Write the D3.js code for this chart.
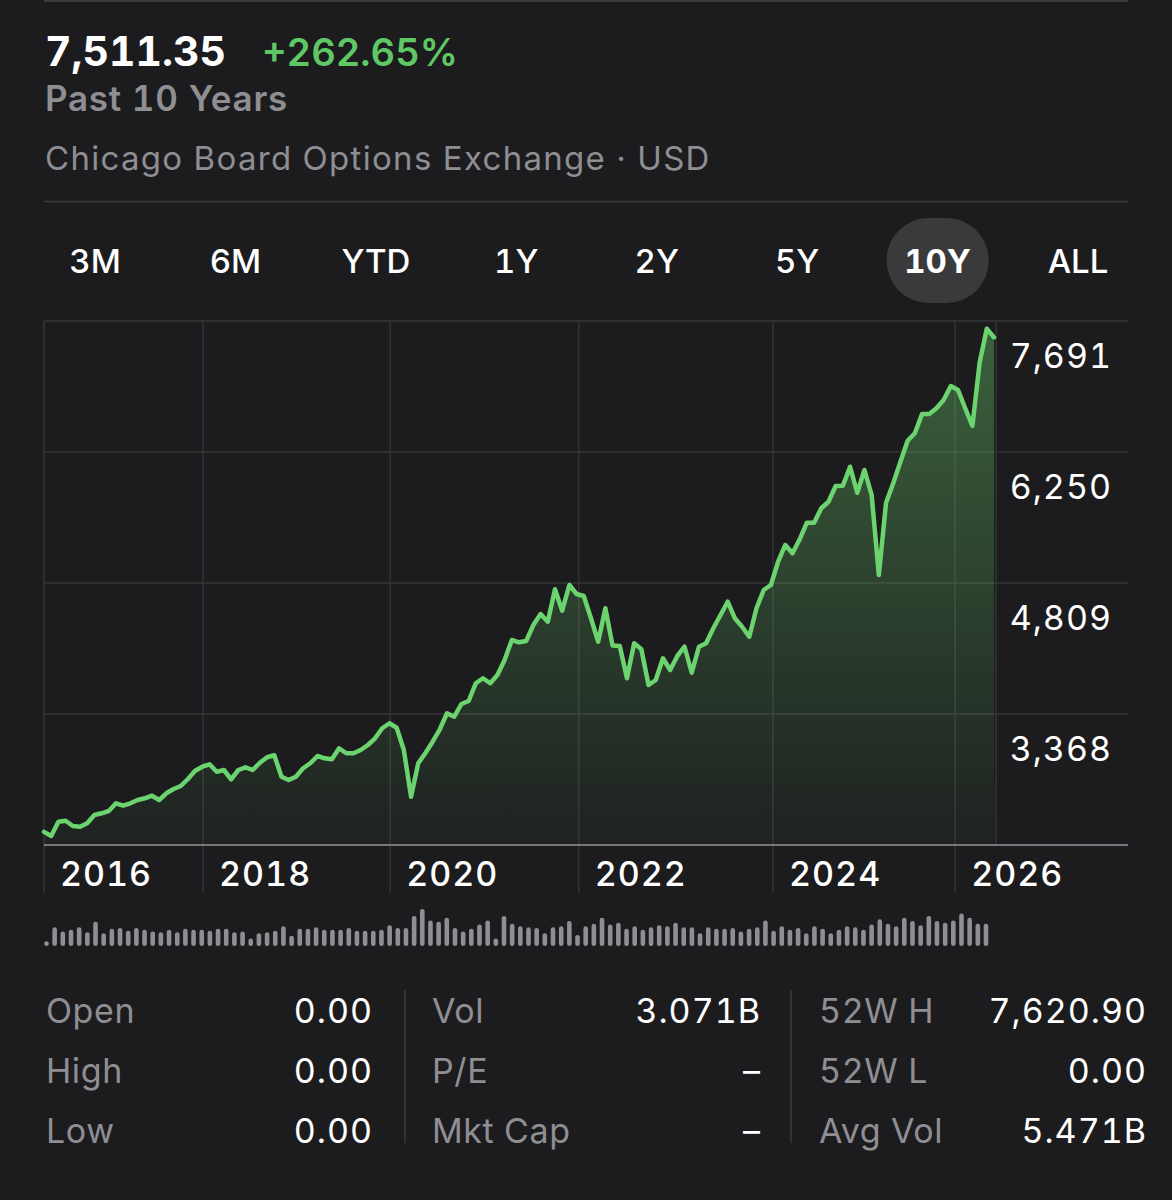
<!DOCTYPE html>
<html>
<head>
<meta charset="utf-8">
<script src="https://cdn.jsdelivr.net/npm/d3@7"></script>
<style>
  body { margin: 0; background: #1c1c1e; }
  svg  { display: block; font-family: Inter, "Noto Sans", sans-serif; font-variant-numeric: tabular-nums; }
</style>
</head>
<body>
<div id="chart"></div>
<script>
// --- Data ---
const lastPrice  = '7,511.35';
const changePct  = '+262.65%';
const periodText = 'Past 10 Years';
const exchange   = 'Chicago Board Options Exchange · USD';

const ranges      = ['3M', '6M', 'YTD', '1Y', '2Y', '5Y', '10Y', 'ALL'];
const activeRange = '10Y';

// closing level, one point per 4 weeks
const closes = [
  2071, 2026, 2183, 2194, 2136, 2128, 2166, 2257, 2276, 2301,
  2386, 2359, 2386, 2422, 2441, 2469, 2422, 2496, 2543, 2576,
  2653, 2744, 2788, 2815, 2733, 2752, 2650, 2752, 2782, 2752,
  2832, 2892, 2914, 2678, 2642, 2678, 2771, 2826, 2906, 2881,
  2870, 2991, 2936, 2936, 2972, 3027, 3101, 3211, 3266, 3217,
  2972, 2458, 2826, 2939, 3063, 3200, 3376, 3338, 3478, 3511,
  3706, 3761, 3706, 3797, 3962, 4182, 4157, 4171, 4347, 4468,
  4383, 4740, 4504, 4787, 4688, 4666, 4421, 4163, 4531, 4122,
  4116, 3761, 4146, 4080, 3687, 3742, 3981, 3852, 4006, 4108,
  3822, 4108, 4146, 4311, 4457, 4603, 4421, 4328, 4218, 4531,
  4732, 4787, 5043, 5227, 5136, 5290, 5472, 5472, 5631, 5703,
  5876, 5879, 6088, 5802, 6052, 5777, 4897, 5692, 5906, 6143,
  6374, 6456, 6668, 6668, 6731, 6822, 6976, 6932, 6731, 6536,
  7232, 7605, 7511.35
];

// volume bars (billions)
const volumes = [
  1.4, 5.4, 4.2, 4.7, 5.4, 4.0, 7.0, 3.7, 5.0, 5.2,
  4.4, 5.2, 4.7, 4.2, 4.0, 4.7, 4.0, 5.0, 4.7, 4.7,
  4.4, 5.0, 5.0, 4.0, 4.2, 2.2, 3.7, 4.0, 4.4, 5.7,
  3.0, 5.0, 5.0, 5.4, 4.7, 4.7, 4.7, 5.2, 4.4, 4.4,
  4.4, 4.7, 6.0, 5.2, 5.2, 8.7, 10.7, 7.4, 7.0, 8.2,
  5.2, 4.2, 5.0, 6.2, 7.4, 2.2, 8.7, 6.4, 5.7, 5.4,
  5.2, 3.7, 5.4, 5.7, 7.2, 3.2, 5.7, 6.4, 8.2, 6.2,
  6.7, 5.0, 5.7, 4.7, 5.4, 6.0, 5.7, 6.7, 5.4, 5.4,
  3.7, 5.4, 5.0, 5.0, 5.2, 4.2, 5.0, 5.4, 7.4, 4.4,
  5.7, 4.7, 5.2, 3.7, 5.7, 5.0, 3.7, 4.7, 5.7, 5.4,
  4.7, 6.2, 7.7, 6.4, 5.7, 8.2, 7.2, 6.0, 8.7, 7.2,
  6.7, 7.4, 9.4, 8.2, 6.4, 6.4
];

const priceTicks = [1927, 3368, 4809, 6250, 7691];
const yearLabels = ['2016', '2018', '2020', '2022', '2024', '2026'];
const yearPos    = [0, 22.1, 48.1, 74.3, 101.3, 126.6];   // in point-index units

const statLabels = [['Open', 'High', 'Low'], ['Vol', 'P/E', 'Mkt Cap'], ['52W H', '52W L', 'Avg Vol']];
const statValues = [['0.00', '0.00', '0.00'], ['3.071B', '–', '–'], ['7,620.90', '0.00', '5.471B']];

// --- Layout ---
const W = 1172, H = 1200;
const plot = { left: 44, right: 1128, top: 321, bottom: 845, dataRight: 994 };
const GRID = '#343437', GRAY = '#8e8e93', GREEN = '#6cd46f';

const svg = d3.select('#chart').append('svg')
  .attr('width', W).attr('height', H);

svg.append('rect').attr('width', W).attr('height', H).attr('fill', '#1c1c1e');

// --- Header ---
svg.append('line')
  .attr('x1', 44).attr('x2', plot.right).attr('y1', 1).attr('y2', 1)
  .attr('stroke', '#3a3a3c').attr('stroke-width', 2);

svg.append('text').attr('x', 45).attr('y', 66)
  .attr('fill', '#fff').attr('font-size', 41).attr('font-weight', 700)
  .text(lastPrice);
svg.append('text').attr('x', 262).attr('y', 66)
  .attr('fill', '#5fc864').attr('font-size', 38).attr('font-weight', 600)
  .text(changePct);
svg.append('text').attr('x', 45).attr('y', 111)
  .attr('fill', GRAY).attr('font-size', 35).attr('font-weight', 600)
  .attr('letter-spacing', 0.7)
  .text(periodText);
svg.append('text').attr('x', 45).attr('y', 170)
  .attr('fill', GRAY).attr('font-size', 33)
  .attr('letter-spacing', 1.3)
  .text(exchange);

svg.append('line')
  .attr('x1', 44).attr('x2', plot.right).attr('y1', 201.5).attr('y2', 201.5)
  .attr('stroke', '#3a3a3c').attr('stroke-width', 1.5);

// --- Range tabs ---
const tabX = d3.scalePoint().domain(ranges).range([95, 1078]);

svg.append('rect')
  .attr('x', tabX(activeRange) - 51).attr('y', 218)
  .attr('width', 102).attr('height', 85).attr('rx', 42)
  .attr('fill', '#3a3a3c');

svg.selectAll('.tab')
  .data(ranges)
  .join('text')
    .attr('class', 'tab')
    .attr('x', d => tabX(d))
    .attr('y', 273)
    .attr('text-anchor', 'middle')
    .attr('fill', '#fff')
    .attr('font-size', 33)
    .attr('font-weight', d => d === activeRange ? 700 : 500)
    .text(d => d);

// --- Price chart ---
const xScale = d3.scaleLinear().domain([0, closes.length - 1]).range([plot.left, plot.dataRight]);
const yScale = d3.scaleLinear().domain([priceTicks[0], priceTicks[priceTicks.length - 1]])
  .range([plot.bottom, plot.top]);

const chart = svg.append('g');

// horizontal gridlines
chart.selectAll('.hgrid')
  .data(priceTicks.slice(1))
  .join('line')
    .attr('class', 'hgrid')
    .attr('x1', plot.left).attr('x2', plot.right)
    .attr('y1', d => yScale(d)).attr('y2', d => yScale(d))
    .attr('stroke', GRID).attr('stroke-width', 1.5);

// vertical year gridlines (run down through the label row)
chart.selectAll('.vgrid')
  .data(yearPos)
  .join('line')
    .attr('class', 'vgrid')
    .attr('x1', d => xScale(d)).attr('x2', d => xScale(d))
    .attr('y1', plot.top).attr('y2', 893)
    .attr('stroke', GRID).attr('stroke-width', 1.5);

// end-of-data marker
chart.append('line')
  .attr('x1', xScale(closes.length - 1) + 2).attr('x2', xScale(closes.length - 1) + 2)
  .attr('y1', plot.top).attr('y2', plot.bottom)
  .attr('stroke', GRID).attr('stroke-width', 1.5);

// area gradient
const defs = svg.append('defs');
const grad = defs.append('linearGradient')
  .attr('id', 'areaFill')
  .attr('gradientUnits', 'userSpaceOnUse')
  .attr('x1', 0).attr('x2', 0).attr('y1', plot.top).attr('y2', plot.bottom);
grad.append('stop').attr('offset', 0).attr('stop-color', GREEN).attr('stop-opacity', 0.38);
grad.append('stop').attr('offset', 1).attr('stop-color', GREEN).attr('stop-opacity', 0.03);

const area = d3.area()
  .x((d, i) => xScale(i))
  .y0(plot.bottom)
  .y1(d => yScale(d));

const line = d3.line()
  .x((d, i) => xScale(i))
  .y(d => yScale(d));

chart.append('path')
  .datum(closes)
  .attr('d', area)
  .attr('fill', 'url(#areaFill)');

chart.append('path')
  .datum(closes)
  .attr('d', line)
  .attr('fill', 'none')
  .attr('stroke', GREEN)
  .attr('stroke-width', 4.5)
  .attr('stroke-linejoin', 'round')
  .attr('stroke-linecap', 'round');

// bottom axis line
chart.append('line')
  .attr('x1', plot.left).attr('x2', plot.right)
  .attr('y1', plot.bottom).attr('y2', plot.bottom)
  .attr('stroke', '#77777c').attr('stroke-width', 2);

// price labels (sit under their gridline)
chart.selectAll('.ylabel')
  .data(priceTicks.slice(1))
  .join('text')
    .attr('class', 'ylabel')
    .attr('x', 1112)
    .attr('y', d => yScale(d) + 47)
    .attr('text-anchor', 'end')
    .attr('fill', '#fff')
    .attr('font-size', 34)
    .attr('letter-spacing', 1)
    .text(d => d3.format(',')(d));

// year labels
chart.selectAll('.xlabel')
  .data(yearLabels)
  .join('text')
    .attr('class', 'xlabel')
    .attr('x', (d, i) => xScale(yearPos[i]) + 16)
    .attr('y', 886)
    .attr('fill', '#fff')
    .attr('font-size', 34)
    .attr('font-weight', 500)
    .attr('letter-spacing', 1)
    .text(d => d);

// --- Volume bars ---
const vx = d3.scaleLinear().domain([0, volumes.length - 1]).range([46.5, 986]);
const vy = d3.scaleLinear().domain([0, d3.max(volumes)]).range([0, 37]);
const volBase = 946, barW = 4.6;

svg.selectAll('.vol')
  .data(volumes)
  .join('rect')
    .attr('class', 'vol')
    .attr('x', (d, i) => vx(i) - barW / 2)
    .attr('y', d => volBase - Math.max(vy(d), barW))
    .attr('width', barW)
    .attr('height', d => Math.max(vy(d), barW))
    .attr('rx', barW / 2)
    .attr('fill', GRAY);

// --- Stats table ---
const colLabelX = [46, 432, 819];
const colValueX = [373, 761, 1147];
const rowY      = [1023, 1083, 1143];

statLabels.forEach((col, c) => {
  const g = svg.append('g');
  g.selectAll('.slabel')
    .data(col)
    .join('text')
      .attr('x', colLabelX[c])
      .attr('y', (d, r) => rowY[r])
      .attr('fill', GRAY)
      .attr('font-size', 34)
      .attr('letter-spacing', 0.6)
      .text(d => d);
  g.selectAll('.svalue')
    .data(statValues[c])
    .join('text')
      .attr('x', colValueX[c])
      .attr('y', (d, r) => rowY[r])
      .attr('text-anchor', 'end')
      .attr('fill', '#fff')
      .attr('font-size', 34)
      .attr('letter-spacing', 1)
      .text(d => d);
});

svg.selectAll('.divider')
  .data([405, 791])
  .join('line')
    .attr('x1', d => d).attr('x2', d => d)
    .attr('y1', 990).attr('y2', 1143)
    .attr('stroke', '#3a3a3c').attr('stroke-width', 1.5);
</script>
</body>
</html>
